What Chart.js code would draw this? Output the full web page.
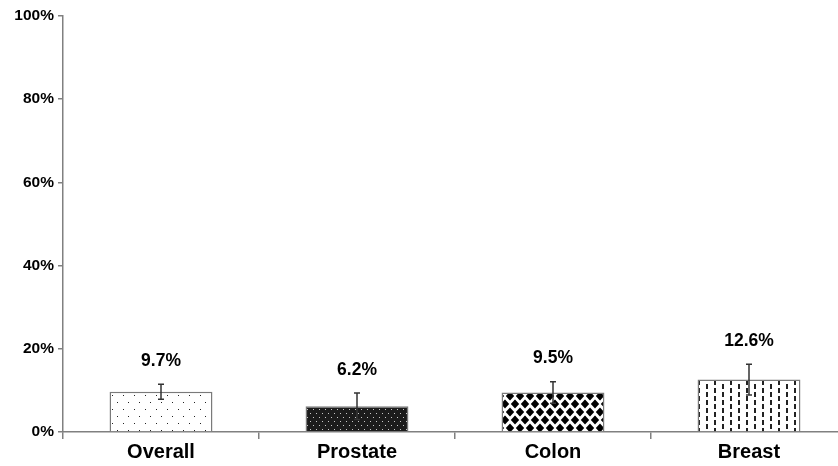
<!DOCTYPE html>
<html><head><meta charset="utf-8">
<script src="https://cdn.jsdelivr.net/npm/chart.js@4.4.0/dist/chart.umd.min.js"></script>
<style>html,body{margin:0;padding:0;background:#fff;overflow:hidden;width:838px;height:466px}
#wrap{width:847px;height:466px}</style>
</head><body><div id="wrap"><canvas id="c" width="847" height="466"></canvas></div>
<script>
const categories = ["Overall", "Prostate", "Colon", "Breast"];
const values = [9.7, 6.2, 9.5, 12.6];
const errors = [1.8, 3.2, 2.6, 3.7];
const valueLabels = ["9.7%", "6.2%", "9.5%", "12.6%"];
const yTicks = [0, 20, 40, 60, 80, 100];

function mk(w, h, draw) {
  const c = document.createElement('canvas'); c.width = w; c.height = h;
  const g = c.getContext('2d'); draw(g, w, h);
  return document.getElementById('c').getContext('2d').createPattern(c, 'repeat');
}
const patOverall = mk(11, 14, (g) => {
  g.fillStyle = '#fff'; g.fillRect(0, 0, 11, 14);
  g.fillStyle = '#222'; g.fillRect(2, 3, 1, 1); g.fillRect(7, 10, 1, 1);
});
const patProstate = mk(6, 8, (g) => {
  g.fillStyle = '#1c1c1c'; g.fillRect(0, 0, 6, 8);
  g.fillStyle = '#c8c8c8'; g.fillRect(1, 1, 1, 1); g.fillRect(4, 5, 1, 1);
});
const patColon = mk(10, 16, (g) => {
  g.fillStyle = '#fff'; g.fillRect(0, 0, 10, 16);
  g.fillStyle = '#000';
  const d = (cx, cy) => { g.beginPath(); g.moveTo(cx - 4.2, cy); g.lineTo(cx, cy - 4.6); g.lineTo(cx + 4.2, cy); g.lineTo(cx, cy + 4.6); g.closePath(); g.fill(); };
  d(5, 4); d(5, 20); d(5, -12); d(0, 12); d(10, 12); d(0, -4); d(10, -4);
});
const patBreast = mk(16, 8, (g) => {
  g.fillStyle = '#fff'; g.fillRect(0, 0, 16, 8);
  g.fillStyle = '#222'; g.fillRect(2, 0, 2, 5); g.fillRect(10, 4, 2, 4); g.fillRect(10, 0, 2, 1);
});

const overlay = {
  id: 'overlay',
  afterDatasetsDraw(chart) {
    const ctx = chart.ctx, xs = chart.scales.x, ys = chart.scales.y;
    ctx.save();
    values.forEach((v, i) => {
      const x = xs.getPixelForValue(i);
      const yt = ys.getPixelForValue(v + errors[i]);
      const yb = ys.getPixelForValue(v - errors[i]);
      ctx.strokeStyle = '#333'; ctx.lineWidth = 1.5;
      ctx.beginPath();
      ctx.moveTo(x, yt); ctx.lineTo(x, yb);
      ctx.moveTo(x - 3, yt); ctx.lineTo(x + 3, yt);
      ctx.moveTo(x - 3, yb); ctx.lineTo(x + 3, yb);
      ctx.stroke();
      ctx.fillStyle = '#000';
      ctx.font = 'bold 17.5px "Liberation Sans", Arial, sans-serif';
      ctx.textAlign = 'center'; ctx.textBaseline = 'middle';
      ctx.fillText(valueLabels[i], x, yt - 23);
    });
    ctx.restore();
  }
};

new Chart(document.getElementById('c'), {
  type: 'bar',
  data: {
    labels: categories,
    datasets: [{
      data: values,
      backgroundColor: [patOverall, patProstate, patColon, patBreast],
      borderColor: '#7a7a7a',
      borderWidth: 1.5,
      barPercentage: 0.525,
      categoryPercentage: 1
    }]
  },
  options: {
    responsive: false,
    animation: false,
    layout: { padding: { top: 16, right: 0, left: 0, bottom: 0 } },
    plugins: { legend: { display: false }, tooltip: { enabled: false } },
    scales: {
      x: {
        offset: true,
        grid: { offset: true, drawOnChartArea: false, drawTicks: true, tickLength: 7, color: '#808080', lineWidth: 1.5 },
        border: { color: '#808080', width: 1.5 },
        ticks: { color: '#000', font: { family: '"Liberation Sans", Arial, sans-serif', size: 20, weight: 'bold' }, padding: 1 },
        afterFit(s) { s.height = 34; }
      },
      y: {
        min: 0, max: 100,
        afterBuildTicks(s) { s.ticks = yTicks.map(v => ({ value: v })); },
        grid: { drawOnChartArea: false, drawTicks: true, tickLength: 5, color: '#808080', lineWidth: 1.5 },
        border: { color: '#808080', width: 1.5 },
        ticks: { color: '#000', font: { family: '"Liberation Sans", Arial, sans-serif', size: 15.5, weight: 'bold' }, padding: 4, callback: v => v + '%' },
        afterFit(s) { s.width = 63; }
      }
    }
  },
  plugins: [overlay]
});
</script></body></html>
